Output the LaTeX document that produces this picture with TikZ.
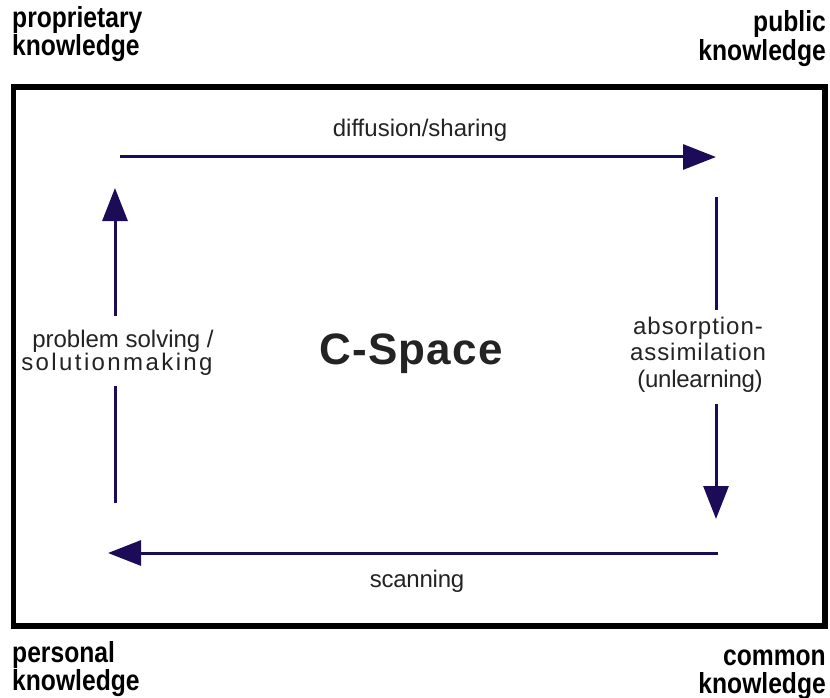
\documentclass[tikz,border=0pt]{standalone}
\usepackage{fontspec}
\setmainfont{Liberation Sans}
\newfontfamily\cornerfont{Liberation Sans}[FakeStretch=0.85]
\usetikzlibrary{arrows.meta}
\definecolor{flowblue}{RGB}{28,12,88}
\definecolor{labelgray}{RGB}{35,35,35}
% letter-spaced text: \spaced{amount}{text}
\newcommand\spaced[2]{{\addfontfeature{LetterSpace=#1}#2}}
\begin{document}
\begin{tikzpicture}[x=1pt,y=-1pt,
  flow/.style={draw=flowblue, line width=3pt, -{Triangle[length=33pt,width=25pt]}},
  corner/.style={font=\cornerfont\bfseries\fontsize{29}{28}\selectfont, text=black, inner sep=0pt},
  flowlabel/.style={font=\fontsize{24}{26}\selectfont, text=labelgray, inner sep=0pt},
  title/.style={font=\bfseries\fontsize{44}{46}\selectfont, text=labelgray, inner sep=0pt}
]
\useasboundingbox (0,0) rectangle (830,698);

% corners of the knowledge cycle
\coordinate (tl) at (120,157);
\coordinate (tr) at (716,157);
\coordinate (rt) at (716,197);
\coordinate (rb) at (716,519);
\coordinate (br) at (718,553);
\coordinate (bl) at (108,553);
\coordinate (lb) at (115,503);
\coordinate (lt) at (115,188);

% the four flows
\draw[flow] (tl) -- (tr);
\draw[flow] (rt) -- (rb);
\draw[flow] (br) -- (bl);
\draw[flow] (lb) -- (lt);

% breaks in the vertical flows behind their labels
\fill[white] (20,316) rectangle (225,386);
\fill[white] (625,310) rectangle (775,404);

% flow labels
\node[flowlabel, anchor=base] (diff) at (420,137) {diffusion/sharing};
\node[flowlabel, anchor=base] (scan) at (417,587) {\spaced{-1}{scanning}};
\node[flowlabel, anchor=base] (ps1) at (123,347) {problem solving /};
\node[flowlabel, anchor=base] (ps2) at (117,370) {\spaced{10}{solutionmaking}};
\node[flowlabel, anchor=base] (ab1) at (698,334) {\spaced{4}{absorption-}};
\node[flowlabel, anchor=base] (ab2) at (698,360) {\spaced{4}{assimilation}};
\node[flowlabel, anchor=base] (ab3) at (700,387) {\spaced{-1}{(unlearning)}};

% centre title
\node[title, anchor=base] (cspace) at (411,364) {\spaced{3}{C-Space}};

% frame
\draw[line width=5.5pt] (13.5,87) rectangle (825,626);

% corner labels
\node[corner, anchor=base west] (pr1) at (12,28) {proprietary};
\node[corner, anchor=base west] (pr2) at (12,56) {knowledge};
\node[corner, anchor=base east] (pu1) at (826,32) {public};
\node[corner, anchor=base east] (pu2) at (826,61) {knowledge};
\node[corner, anchor=base west] (pe1) at (12,662) {personal};
\node[corner, anchor=base west] (pe2) at (12,690) {knowledge};
\node[corner, anchor=base east] (co1) at (826,665) {common};
\node[corner, anchor=base east] (co2) at (826,693) {knowledge};
\end{tikzpicture}
\end{document}
